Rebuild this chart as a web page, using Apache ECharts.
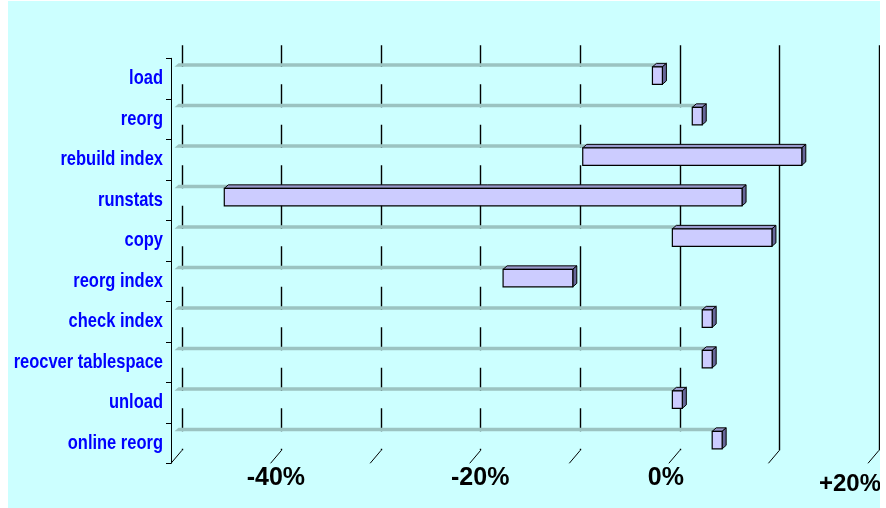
<!DOCTYPE html>
<html>
<head>
<meta charset="utf-8">
<script src="https://cdn.jsdelivr.net/npm/echarts@6/dist/echarts.min.js"></script>
<style>
  html, body { margin: 0; padding: 0; background: #ffffff; }
  #chart { position: absolute; left: 8px; top: 1px; width: 872px; height: 507px; }
</style>
</head>
<body>
<div id="chart"></div>
<script>
// ---- data ----
const categories = ['load', 'reorg', 'rebuild index', 'runstats', 'copy', 'reorg index', 'check index', 'reocver tablespace', 'unload', 'online reorg'];
const startValues = [-2, 2, -9, -45, 0, -17, 3, 3, 0, 4];
const endValues   = [-1, 3, 13, 7, 10, -10, 4, 4, 1, 5];
const axisMin = -50, axisMax = 20, axisStep = 10;
const tickValues = [-50, -40, -30, -20, -10, 0, 10, 20];
const labelValues = [-40, -20, 0, 20];
const tickLabels = ['-40%', '-20%', '0%', '+20%'];

// ---- styles ----
const BG = '#CCFFFF';
const FONT = "'Liberation Sans', Arial, sans-serif";
// per-label nudges of the x tick labels [dx, dy, fontSize]
const xLabelNudge = [[5.3, 2.2, 25], [10.5, 2.2, 25], [-3, 2.2, 25], [-18, 9.5, 24]];

const chart = echarts.init(document.getElementById('chart'), null, { renderer: 'canvas' });

const barData = categories.map((c, i) => [i, startValues[i], endValues[i]]);
const tickData = tickValues.map(v => [v, 0]);
const xLabelData = labelValues.map((v, k) => [v, 0, k]);
const yLabelData = categories.map((c, i) => [axisMin, i]);

const FX = -7.5, TOP = 1.3, H = 17.5, DX = 4, DY = -3.5;

function renderBar(params, api) {
  const i = api.value(0), s = api.value(1), e = api.value(2);
  const pMin = api.coord([axisMin, i]);
  const pS = api.coord([s, i]);
  const pE = api.coord([e, i]);
  const x0 = pMin[0] + FX, x1 = pS[0] + FX, x2 = pE[0] + FX;
  const yT = pS[1] + TOP;
  const children = [];
  // hidden base part: background-coloured front face, grey top face
  children.push({ type: 'rect', shape: { x: x0, y: yT, width: x1 - x0, height: H }, style: { fill: BG } });
  children.push({ type: 'polygon', shape: { points: [[x0, yT], [x1, yT], [x1 + DX, yT + DY], [x0 + DX, yT + DY]] }, style: { fill: '#9BC3C1' } });
  // visible floating bar (3D box)
  children.push({ type: 'polygon', shape: { points: [[x1, yT], [x2, yT], [x2 + DX, yT + DY], [x1 + DX, yT + DY]] }, style: { fill: '#9999CC', stroke: '#000', lineWidth: 1 } });
  children.push({ type: 'polygon', shape: { points: [[x2, yT], [x2 + DX, yT + DY], [x2 + DX, yT + DY + H], [x2, yT + H]] }, style: { fill: '#666699', stroke: '#000', lineWidth: 1 } });
  children.push({ type: 'rect', shape: { x: x1, y: yT, width: x2 - x1, height: H }, style: { fill: '#CCCCFF', stroke: '#000', lineWidth: 1.2 } });
  return { type: 'group', children: children };
}

function renderTick(params, api) {
  const p = api.coord([api.value(0), 0]);
  const bottom = params.coordSys.y + params.coordSys.height;
  return { type: 'line', shape: { x1: p[0], y1: bottom, x2: p[0] - 11, y2: bottom + 13 }, style: { stroke: '#000', lineWidth: 1 } };
}

function renderXLabel(params, api) {
  const k = api.value(2);
  const p = api.coord([api.value(0), 0]);
  const bottom = params.coordSys.y + params.coordSys.height;
  const n = xLabelNudge[k];
  return { type: 'text', x: p[0] + n[0], y: bottom + n[1],
    style: { text: tickLabels[k], x: 0, y: 0, align: 'center', verticalAlign: 'top', fill: '#000',
      font: 'bold ' + n[2] + 'px ' + FONT } };
}

function renderYLabel(params, api) {
  const i = api.value(1);
  const p = api.coord([axisMin, i]);
  return { type: 'text', x: p[0] - 8, y: p[1], scaleX: 0.785, scaleY: 1,
    style: { text: categories[i], x: 0, y: 0, align: 'right', verticalAlign: 'middle', fill: '#0000FF',
      font: 'bold 21px ' + FONT } };
}

chart.setOption({
  backgroundColor: BG,
  animation: false,
  grid: [
    { left: 174, right: 1, top: 44.3, bottom: 57.7 },
    { left: 163, right: 12, top: 57.3, bottom: 44.7 }
  ],
  xAxis: [
    { gridIndex: 0, type: 'value', min: axisMin, max: axisMax, interval: axisStep,
      axisLine: { show: false }, axisTick: { show: false }, axisLabel: { show: false },
      splitLine: { show: true, lineStyle: { color: '#000', width: 1.4 } } },
    { gridIndex: 1, type: 'value', min: axisMin, max: axisMax, interval: axisStep,
      axisLine: { show: false }, axisTick: { show: false }, splitLine: { show: false }, axisLabel: { show: false } }
  ],
  yAxis: [
    { gridIndex: 0, type: 'category', inverse: true, data: categories,
      axisLine: { show: false }, axisTick: { show: false }, axisLabel: { show: false }, splitLine: { show: false } },
    { gridIndex: 1, type: 'category', inverse: true, data: categories,
      axisLine: { show: true, onZero: false, lineStyle: { color: '#000', width: 1 } },
      axisTick: { show: true, length: 5, lineStyle: { color: '#000' } },
      axisLabel: { show: false }, splitLine: { show: false } }
  ],
  series: [
    { type: 'custom', xAxisIndex: 0, yAxisIndex: 0, data: tickData, encode: { x: 0, y: 1 }, renderItem: renderTick, silent: true },
    { type: 'custom', xAxisIndex: 0, yAxisIndex: 0, data: barData, encode: { x: [1, 2], y: 0 }, renderItem: renderBar, silent: true },
    { type: 'custom', xAxisIndex: 1, yAxisIndex: 1, data: xLabelData, encode: { x: 0, y: 1 }, renderItem: renderXLabel, silent: true },
    { type: 'custom', xAxisIndex: 1, yAxisIndex: 1, data: yLabelData, encode: { x: 0, y: 1 }, renderItem: renderYLabel, silent: true }
  ]
});
</script>
</body>
</html>
